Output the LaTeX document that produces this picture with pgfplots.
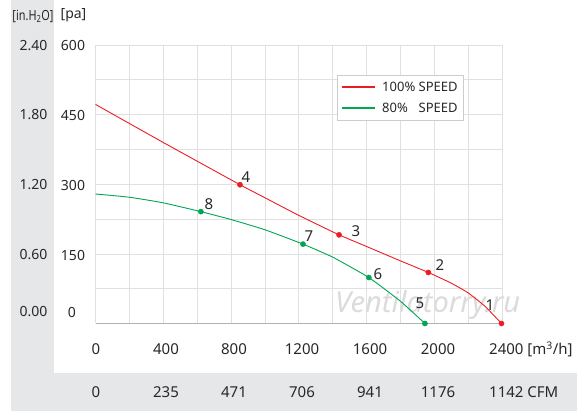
\documentclass[border=0pt]{standalone}
\usepackage{fontspec}
\setmainfont{Noto Sans}
\usepackage{graphicx}
\usepackage{pgfplots}
\pgfplotsset{compat=1.18}
\definecolor{band}{RGB}{230,231,232}
\definecolor{cred}{RGB}{237,28,36}
\definecolor{cgreen}{RGB}{0,166,81}
\definecolor{txt}{RGB}{40,40,40}
\newcommand{\fs}[1]{\fontsize{#1bp}{#1bp}\selectfont}
\begin{document}
\begin{tikzpicture}
\useasboundingbox (0,0) rectangle (587bp,419bp);
\fill[band] (11bp,8bp) rectangle (54bp,419bp);
\fill[band] (11bp,8bp) rectangle (577bp,46bp);
% watermark
\node[anchor=west, inner sep=0pt, text=black!14, font=\fs{29}\itshape] at (335bp,114bp) {Ventilatorry.ru};
\begin{axis}[
  at={(95.5bp,95.5bp)}, anchor=south west,
  scale only axis, width=406.5bp, height=278.5bp,
  xmin=0, xmax=2400, ymin=0, ymax=600,
  xtick={0,200,...,2400}, ytick={0,75,...,600},
  xticklabels={}, yticklabels={},
  major tick length=0pt,
  grid=major, grid style={color=black!12, line width=0.7pt},
  axis line style={draw=none},
  clip=false,
]
\draw[black!30, line width=0.8pt] (axis cs:0,0) -- (axis cs:2400,0);
\addplot[color=cred, line width=0.9bp, smooth, tension=0.3] coordinates {
 (0,472) (400,390) (853,299) (1000,271) (1200,233) (1438,191) (1600,166)
 (1800,135) (1965,110) (2100,87) (2200,66) (2300,37) (2397,0)};
\addplot[color=cgreen, line width=0.9bp, smooth, tension=0.3] coordinates {
 (0,279) (200,272) (400,260) (622,241) (800,224) (1000,202) (1225,171)
 (1400,143) (1614,99) (1800,48) (1945,0)};
\addplot[only marks, mark=*, mark size=2.6bp, cred] coordinates {
 (853,299) (1438,191) (1965,110) (2397,0)};
\addplot[only marks, mark=*, mark size=2.6bp, cgreen] coordinates {
 (622,241) (1225,171) (1614,99) (1945,0)};
\end{axis}
% legend
\draw[black!20, line width=0.6pt, fill=white] (337bp,299bp) rectangle (463bp,344bp);
\draw[cred, line width=1.4bp] (342bp,332bp) -- (375bp,332bp);
\draw[cgreen, line width=1.4bp] (342bp,311bp) -- (375bp,311bp);
\begin{scope}[every node/.style={inner sep=0pt, text=txt, font=\fs{13}, anchor=west}]
\node at (382bp,332bp) {\makebox[36.5bp][l]{100\%}SPEED};
\node at (382bp,311bp) {\makebox[36.5bp][l]{80\%}SPEED};
\end{scope}
% point labels
\begin{scope}[every node/.style={inner sep=0pt, text=txt, font=\fs{15}}]
\node at (490bp,114bp) {1};
\node at (440bp,154bp) {2};
\node at (356bp,188bp) {3};
\node at (246bp,242bp) {4};
\node at (420bp,116bp) {5};
\node at (378bp,145bp) {6};
\node at (309bp,183bp) {7};
\node at (209bp,215bp) {8};
\end{scope}
% y labels
\begin{scope}[every node/.style={inner sep=0pt, text=txt, font=\fs{14}}]
\node at (33bp,403bp) {\scalebox{0.78}[1]{\fs{14}[in.H\textsubscript{2}O]}};
\node at (73.5bp,403.5bp) {[pa]};
\node at (33.5bp,373.5bp) {2.40};
\node at (33.5bp,304bp) {1.80};
\node at (33.5bp,234bp) {1.20};
\node at (33.5bp,164bp) {0.60};
\node at (33.5bp,107bp) {0.00};
\node at (73bp,373.5bp) {600};
\node at (73bp,304bp) {450};
\node at (73bp,234bp) {300};
\node at (73bp,164bp) {150};
\node at (72bp,107bp) {0};
\end{scope}
% x labels
\begin{scope}[every node/.style={inner sep=0pt, text=txt, font=\fs{15}}]
\node at (96bp,70bp) {0};
\node at (166bp,70bp) {400};
\node at (234bp,70bp) {800};
\node at (302bp,70bp) {1200};
\node at (370bp,70bp) {1600};
\node at (438bp,70bp) {2000};
\node[anchor=west] at (489bp,70bp) {2400 [m\textsuperscript{3}/h]};
\node at (96bp,26.5bp) {0};
\node at (166bp,26.5bp) {235};
\node at (234bp,26.5bp) {471};
\node at (302bp,26.5bp) {706};
\node at (370bp,26.5bp) {941};
\node at (438bp,26.5bp) {1176};
\node[anchor=west] at (489bp,26.5bp) {1142 CFM};
\end{scope}
\end{tikzpicture}
\end{document}
